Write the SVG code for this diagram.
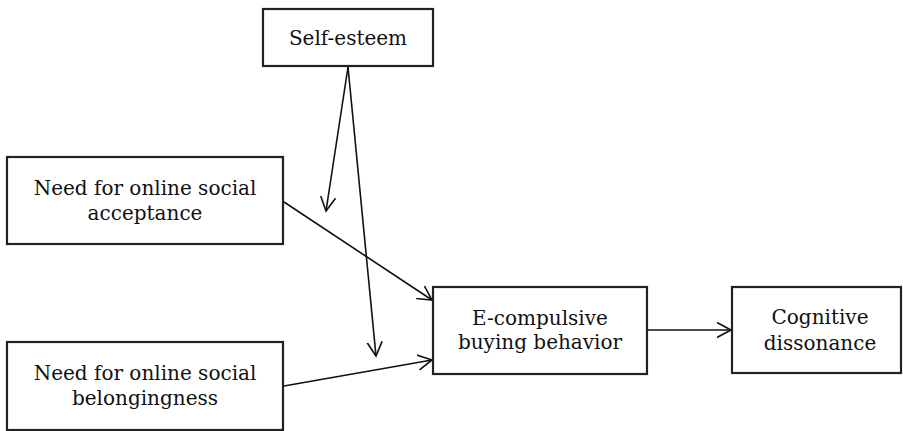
<svg xmlns="http://www.w3.org/2000/svg" width="903" height="431" viewBox="0 0 903 431">
<defs>
<marker id="arr" markerUnits="userSpaceOnUse" markerWidth="20" markerHeight="20" viewBox="0 0 20 20" refX="14" refY="10" orient="auto">
<path d="M0,2.5 L14,10 L0,17.5" fill="none" stroke="#111" stroke-width="1.6"/>
</marker>
</defs>
<style>
.box{fill:#fff;stroke:#222;stroke-width:2.2}
.t{font-family:"DejaVu Serif","Liberation Serif",serif;font-size:20px;fill:#111;text-anchor:middle}
.c{stroke:#111;stroke-width:1.6;fill:none;marker-end:url(#arr)}
</style>
<rect width="903" height="431" fill="#fff"/>
<g id="self-esteem">
<rect class="box" x="263" y="9" width="170" height="57"/>
<text class="t" x="348" y="45">Self-esteem</text>
</g>
<g id="acceptance">
<rect class="box" x="7" y="157" width="276" height="87"/>
<text class="t" x="145" y="195">Need for online social</text>
<text class="t" x="145" y="220">acceptance</text>
</g>
<g id="belongingness">
<rect class="box" x="7" y="342" width="276" height="88"/>
<text class="t" x="145" y="380">Need for online social</text>
<text class="t" x="145" y="405">belongingness</text>
</g>
<g id="ecompulsive">
<rect class="box" x="433" y="287" width="214" height="87"/>
<text class="t" x="540" y="325">E-compulsive</text>
<text class="t" x="540" y="349">buying behavior</text>
</g>
<g id="cognitive">
<rect class="box" x="732" y="287" width="169" height="86"/>
<text class="t" x="820" y="324">Cognitive</text>
<text class="t" x="820" y="350">dissonance</text>
</g>
<g id="connectors">
<line class="c" x1="348" y1="67" x2="326" y2="211"/>
<line class="c" x1="348" y1="67" x2="376" y2="356"/>
<line class="c" x1="284" y1="202" x2="432" y2="300"/>
<line class="c" x1="284" y1="386" x2="432" y2="360"/>
<line class="c" x1="648" y1="330" x2="731" y2="330"/>
</g>
</svg>
